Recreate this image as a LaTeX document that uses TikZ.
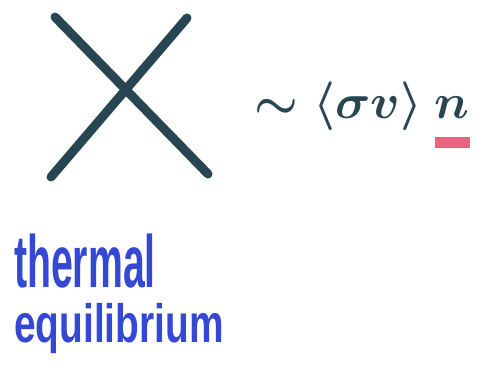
\RequirePackage{fix-cm}
\documentclass[tikz,border=0pt]{standalone}
\usepackage{fontspec}
\setsansfont{Liberation Sans}
\usepackage{tikz}
\usetikzlibrary{positioning}
\definecolor{ink}{RGB}{40, 70, 82}
\definecolor{mark}{RGB}{232, 100, 127}
\definecolor{note}{RGB}{52, 72, 212}

\begin{document}
\begin{tikzpicture}[x=1pt, y=-1pt,
    stroke/.style={draw=#1, line width=9pt, line cap=round},
    hand/.style={font=\fontsize{#1}{#1}\selectfont\sffamily\bfseries, text=note,
                 transform shape, inner sep=0pt, anchor=base west},
    formula/.style={font=\fontsize{49}{53}\selectfont\boldmath, text=ink, inner sep=0pt, anchor=base west}
]
\useasboundingbox (0,0) rectangle (479,368);

% ============================================
% CROSS (annihilation vertex)
% ============================================
\draw[stroke=ink] (55,17) -- (208,174);
\draw[stroke=ink] (187,18) -- (51,177);

% ============================================
% RATE
% ============================================
\node[formula] (rate) at (254,118) {$\sim\langle\sigma v\rangle$};
\node[formula] (dens) at ([xshift=12pt]rate.base east) {$n$};
\draw[stroke=mark, line width=11pt, line cap=butt] ([yshift=-24pt]dens.base west) coordinate (u1)
    -- ([yshift=-24pt]dens.base east) coordinate (u2);

% ============================================
% LABEL
% ============================================
\node[hand=74, xscale=0.53] (thermal) at (14,287) {thermal};
\node[hand=54, xscale=0.72] (equil) at (14,342) {equilibrium};

\end{tikzpicture}
\end{document}
